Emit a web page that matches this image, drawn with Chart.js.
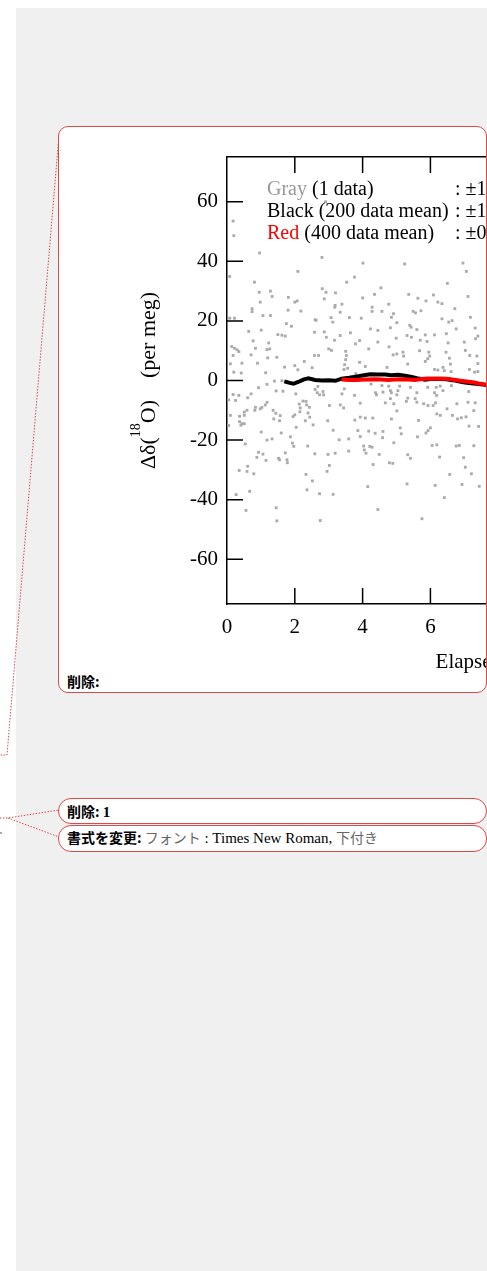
<!DOCTYPE html>
<html>
<head>
<meta charset="utf-8">
<script src="https://cdn.jsdelivr.net/npm/chart.js@4.4.1/dist/chart.umd.min.js"></script>
<style>
  html, body { margin: 0; padding: 0; width: 487px; height: 1271px; overflow: hidden; background: #fff; }
  #pane { position: absolute; left: 16px; top: 8px; width: 471px; height: 1263px; background: #f0f0f0; }
  #links { position: absolute; left: 0; top: 0; }
  .balloon { position: absolute; left: 58px; width: 429px; box-sizing: border-box; border: 1px solid #e04848; background: #fff; overflow: hidden; }
  #b1 { top: 126px; height: 567px; border-radius: 10px; }
  #b2 { top: 798px; height: 26px; border-radius: 13px; }
  #b3 { top: 825px; height: 27px; border-radius: 13px; }
  #chart { position: absolute; left: 41px; top: 13px; }
  #legend { position: absolute; left: 208px; top: 50px; font: 20px/22px "Liberation Serif", serif; color: #000; white-space: nowrap; }
  #legend div { position: relative; height: 22px; }
  #legend .val { position: absolute; left: 188px; top: 0; }
  .note { position: absolute; left: 8px; font: 14px/16px "Noto Sans CJK JP", sans-serif; color: #000; white-space: nowrap; }
  .note b { font-weight: 700; }
  .tn { font-family: "Liberation Serif", serif; font-size: 15px; }
  .cj { color: #666; }
</style>
</head>
<body>
<div id="pane"></div>
<svg id="links" width="487" height="1271">
  <polyline points="59,135 7,755 0,755" fill="none" stroke="#e04848" stroke-width="1" stroke-dasharray="1.5,1.5"/>
  <polyline points="0,818 8,818 59,810" fill="none" stroke="#e04848" stroke-width="1" stroke-dasharray="1.5,1.5"/>
  <polyline points="8,818 59,837" fill="none" stroke="#e04848" stroke-width="1" stroke-dasharray="1.5,1.5"/>
  <line x1="0" y1="833" x2="2" y2="833" stroke="#555" stroke-width="1"/>
</svg>

<div class="balloon" id="b1">
  <canvas id="chart" width="720" height="560"></canvas>
  <div id="legend">
    <div><span style="color:#999">Gray</span> (1 data)<span class="val">: ±11.2 per meg</span></div>
    <div>Black (200 data mean)<span class="val">: ±1.0 per meg</span></div>
    <div><span style="color:#f00">Red</span> (400 data mean)<span class="val">: ±0.7 per meg</span></div>
  </div>
  <div class="note" style="top:546px"><b>削除:</b></div>
</div>
<div class="balloon" id="b2">
  <div class="note" style="top:4px"><b>削除: <span class="tn">1</span></b></div>
</div>
<div class="balloon" id="b3">
  <div class="note" style="top:3px"><b>書式を変更:</b> <span class="cj">フォント</span><span class="tn"> : Times New Roman, </span><span class="cj">下付き</span></div>
</div>

<script>
// axes
const xTicks = [0, 2, 4, 6, 8, 10, 12, 14, 16];
const yTicks = [-60, -40, -20, 0, 20, 40, 60];
const xRange = [0, 16.4];
const yRange = [-75, 75];

// 200 data running mean
const blackX = [1.69, 1.85, 1.96, 2.1, 2.25, 2.4, 2.6, 2.8, 3.0, 3.2, 3.38, 3.6, 3.8, 4.0, 4.22, 4.45, 4.66, 4.85, 5.05, 5.25, 5.45, 5.6, 5.84, 6.0, 6.14, 6.3, 6.48, 6.6, 6.73, 6.9, 7.02, 7.2, 7.42, 7.6, 7.8, 8.0];
const blackY = [-0.3, -0.8, -1.1, -0.5, 0.3, 0.7, 0.2, 0.0, 0.1, -0.1, 0.6, 0.9, 1.3, 1.7, 2.1, 2.0, 2.0, 1.8, 1.9, 1.6, 1.2, 0.8, 0.3, 0.5, 0.6, 0.5, 0.4, 0.2, 0.0, -0.4, -0.7, -0.9, -1.2, -1.4, -1.6, -1.8];

// 400 data running mean
const redX = [3.38, 3.6, 3.8, 4.1, 4.37, 4.55, 4.76, 4.95, 5.15, 5.35, 5.55, 5.75, 5.94, 6.15, 6.33, 6.55, 6.73, 6.9, 7.12, 7.3, 7.42, 7.6, 7.8, 8.0];
const redY = [0.3, 0.2, 0.2, 0.3, 0.4, 0.3, 0.2, 0.3, 0.4, 0.3, 0.2, 0.5, 0.7, 0.6, 0.7, 0.5, 0.2, -0.1, -0.4, -0.7, -1.0, -1.3, -1.5, -1.7];

// single measurements [elapsed h, per meg]
const grayPts = [
  [0.18,53.5],[0.2,48.6],[0.96,42.8],[2.8,41.3],[2.09,36.6],[0.08,34.9],[0.81,33],[0.95,29.6],[1.28,30],[1.33,28.2],
  [0.98,26.3],[1.81,27.9],[2.07,26.7],[2.81,30.8],[2.92,29.6],[3.2,29.4],[3.53,33],[3.76,34.7],[3.39,25.6],[2.91,60],
  [2.87,27.4],[2.6,20.4],[2.0,26.3],[3.19,25.2],
  [4.01,39.4],[5.24,39.1],[6.96,39.4],[7.06,36.6],[6.5,32.6],[4.54,31.1],[4.35,28.9],[4.0,27.7],[5.36,28.9],[5.63,27.6],
  [5.87,26.7],[6.09,28.7],[6.22,26.3],[6.34,25.8],[7.11,28.2],[4.77,25.6],[4.91,22.4],
  [0.74,24.1],[0.74,23.1],[1.06,21.8],[1.28,21.8],[1.8,23.6],[2.18,23.3],[3.18,24.6],[3.34,22.9],[0.08,20.9],[0.22,20.9],
  [1.75,19.1],[1.9,18.2],[2.63,20.2],[3.07,21.1],[3.12,19.6],[3.61,21.1],[0.64,16.5],[1.01,16.9],[1.5,15.4],[1.62,15.2],
  [1.72,14.9],[2.58,16.2],[2.87,16.3],[2.93,14.5],[3.17,13.5],[3.34,15.1],[3.64,16],[0.77,13.3],[1.23,12.6],[0.14,11.4],
  [0.22,10.8],[0.3,10.3],[0.35,9.7],[0.84,10.8],[1.18,10.4],[1.26,10.6],[0.18,8.4],[0.71,8.6],[1.2,7.6],[1.47,7.8],
  [2.28,6.4],[2.58,8.4],[2.7,8.4],[3.0,10.6],[3.08,10.1],[3.5,9.8],[3.52,8.4],[3.5,7.0],[3.47,5.3],[3.45,3.7],
  [3.79,12.3],[0.1,5.6],[0.44,5.8],[0.9,5.8],[1.7,4.5],[2.0,5],[2.09,3.6],[2.51,4.3],[3.56,4.1],[0.2,2.8],
  [0.42,2.5],[1.14,2.6],[3.8,2.3],[1.4,-0.2],[1.62,-0.1],[0.93,-2.4],[1.18,-1.3],[1.45,-3.5],[1.65,-3.6],[2.68,-2],
  [2.03,-4.5],[0.18,-4.7],[0.35,-5],[0.71,-4.5],[2.6,-3],[2.66,-4.1],[2.73,-4.8],[2.83,-3.7],[2.85,-4.8],[0.05,-6.5],
  [0.61,-5.8],[0.25,-6.7],[1.18,-7.3],[1.13,-8.2],[1.03,-9],[0.84,-9],[0.82,-10],[0.51,-10.6],[0.59,-10],[0.98,-9.5],
  [1.36,-10],[1.44,-11],[2.13,-7.9],[2.24,-6.9],[2.33,-7],[2.16,-9.2],[2.15,-10.5],[2.39,-10.9],[2.43,-9],[2.35,-8.2],
  [2.0,-11.5],[3.02,-8.4],[3.34,-8.2],[3.44,-9.2],[3.76,-5],[3.39,-4.5],[3.46,-2.8],
  [4.28,24.6],[4.28,23.2],[4.57,23.2],[4.85,21.2],[5.01,19.4],[5.49,23.2],[5.56,22.7],[5.72,23.4],[6.72,24.1],[3.96,20.9],
  [6.34,20.7],[6.54,19.6],[6.64,20.1],[7.18,21.2],[4.23,17.3],[4.45,16.8],[4.82,17.7],[5.39,18.5],[5.43,17.9],[5.6,17.1],
  [5.85,15.3],[6.12,15.3],[6.47,15.7],[6.76,17.3],[7.32,17.6],[3.91,13.4],[4.45,12.9],[4.99,14.2],[5.31,15.1],[5.44,14.5],
  [5.7,13.5],[5.9,13.1],[6.52,12.6],[7.0,12.9],[7.33,14],[7.4,14.9],[4.18,10.6],[4.78,11.3],[5.19,9.5],[5.21,8.2],
  [5.01,8.9],[4.9,8.6],[5.68,10],[5.95,9.5],[5.98,8.2],[5.92,7.3],[5.85,6.4],[6.46,9.5],[6.56,7.5],[7.03,10.1],
  [7.16,8.4],[7.37,8.2],[3.91,6.1],[5.33,5.5],[6.59,5.5],[7.4,5.7],[4.72,4.4],[4.08,4.7],[6.12,3.7],[6.22,3.5],
  [6.37,4.4],[6.41,3.3],[6.61,3],[7.15,3.7],[7.3,2.8],[7.4,3],[4.25,-1.2],[4.57,-1.7],[4.77,-1.9],[5.09,-1.9],
  [5.41,-2.3],[5.92,-2.3],[6.17,-2.3],[6.29,-1.9],[6.62,-1.7],[4.38,-4.1],[4.41,-4.8],[4.6,-3.9],[4.82,-3.4],[4.85,-4.1],
  [5.04,-3.4],[5.01,-4.8],[5.6,-4.1],[6.12,-4.1],[6.18,-5],[6.37,-3.4],[7.13,-3.7],[4.82,-6.1],[5.29,-7],[5.33,-5.9],
  [5.55,-6.1],[5.6,-7.3],[5.8,-7.8],[5.93,-8.4],[6.08,-8.4],[6.15,-7.5],[4.67,-7.5],[4.92,-7.8],[3.93,-7.6],[6.49,-9.5],
  [6.78,-7.8],[7.11,-7.3],[7.32,-7.5],[5.01,-10.2],[7.28,-10.1],[6.19,-11.2],
  [0.1,-11.7],[0.37,-12],[0.51,-11.7],[0.37,-13.8],[0.44,-14.5],[0.51,-14.5],[0.41,-15.0],[0.05,-15.1],[1.38,-12.9],[1.55,-13.5],
  [1.57,-11.8],[1.95,-12.1],[2.31,-13.5],[2.44,-12.3],[2.54,-14.9],[2.04,-15.7],[2.97,-13.5],[3.77,-13.3],[1.01,-17.3],[1.6,-17.6],
  [1.87,-18.9],[3.13,-16.7],[1.18,-20],[1.33,-19.6],[0.54,-21.3],[1.93,-21],[1.97,-22.1],[2.38,-22],[3.31,-19.9],[3.59,-19.6],
  [0.93,-24.1],[1.06,-24.7],[0.88,-25.8],[1.15,-26.8],[1.72,-24.3],[1.52,-26.1],[1.55,-26.6],[1.77,-26.6],[1.78,-27.6],[2.59,-24.6],
  [2.98,-24.8],[3.19,-24.4],[3.59,-23.7],[0.61,-28.8],[0.36,-30.2],[0.59,-30.5],[0.79,-31.3],[3.02,-28.5],[2.95,-30.5],[2.33,-31.5],
  [2.52,-33.7],[2.36,-36.7],[2.73,-38],[3.13,-38.2],[0.67,-37.2],[0.27,-38.3],[1.45,-42.7],[0.56,-43.6],[1.47,-47.1],[2.75,-47],
  [3.93,-12.3],[4.08,-12.6],[4.3,-12.6],[4.85,-12.9],[5.65,-13.4],[6.29,-11.7],[6.65,-11.7],[6.8,-12.9],[6.91,-12.5],[7.05,-12.2],
  [3.86,-16.8],[4.18,-17],[4.37,-17.7],[4.6,-17.1],[4.59,-19.2],[3.93,-18.8],[5.11,-15.9],[5.14,-17.9],[5.62,-18.9],[5.87,-17.6],
  [5.93,-16.8],[6.0,-15.9],[7.14,-15.3],[7.42,-15.4],[4.92,-20.9],[4.03,-22],[4.05,-23.3],[4.1,-24.4],[4.21,-22.1],[4.28,-22.4],
  [4.49,-24.8],[6.05,-21.8],[6.19,-21.6],[6.76,-22],[6.85,-21.8],[7.28,-21.9],[5.33,-24.9],[5.41,-26.1],[6.27,-25.7],[6.98,-25.9],
  [4.31,-28.2],[4.79,-27.6],[4.89,-27.8],[7.03,-29.1],[6.57,-31.5],[7.21,-31.3],[4.15,-35.6],[5.31,-34.7],[6.14,-35.2],[6.93,-34.9],
  [7.44,-35.5],[6.41,-39.3],[4.45,-43.3],[5.75,-46.4]
];

const serif = { family: '"Liberation Serif", serif', size: 21 };
// short line height keeps the label overhang inside the 17px top strip
const serifY = { family: '"Liberation Serif", serif', size: 21, lineHeight: 0.6 };
const toXY = (xs, ys) => xs.map((x, i) => ({ x: x, y: ys[i] }));

// tick marks point into the plot, on bottom, top and left
const innerTicks = {
  id: 'innerTicks',
  afterDatasetsDraw(chart) {
    const { ctx, chartArea: a, scales } = chart;
    ctx.save();
    ctx.strokeStyle = '#000';
    ctx.lineWidth = 1.5;
    ctx.beginPath();
    scales.y.ticks.forEach(t => {
      const py = scales.y.getPixelForValue(t.value);
      ctx.moveTo(a.left, py);
      ctx.lineTo(a.left + 16, py);
    });
    scales.x.ticks.forEach(t => {
      if (t.value === 0) return;
      const px = scales.x.getPixelForValue(t.value);
      ctx.moveTo(px, a.bottom);
      ctx.lineTo(px, a.bottom - 16);
      ctx.moveTo(px, a.top);
      ctx.lineTo(px, a.top + 16);
    });
    ctx.stroke();
    ctx.restore();
  }
};

// y title with a raised "18"
const yTitle = {
  id: 'yTitle',
  afterDraw(chart) {
    const ctx = chart.ctx;
    const cy = (chart.chartArea.top + chart.chartArea.bottom) / 2;
    ctx.save();
    ctx.translate(55, cy);
    ctx.rotate(-Math.PI / 2);
    ctx.fillStyle = '#000';
    ctx.textBaseline = 'alphabetic';
    const big = '22px "Liberation Serif", serif';
    const small = '14px "Liberation Serif", serif';
    const parts = [['Δδ(', big, 0], ['18', small, -15], ['O)    (per meg)', big, 0]];
    let w = 0;
    parts.forEach(p => { ctx.font = p[1]; w += ctx.measureText(p[0]).width; });
    let x = -w / 2;
    parts.forEach(p => {
      ctx.font = p[1];
      ctx.fillText(p[0], x, p[2]);
      x += ctx.measureText(p[0]).width;
    });
    ctx.restore();
  }
};

new Chart(document.getElementById('chart'), {
  type: 'scatter',
  data: {
    datasets: [
      { label: 'Red', data: toXY(redX, redY), showLine: true, borderColor: '#ff0000', borderWidth: 4, pointRadius: 0, order: 0 },
      { label: 'Black', data: toXY(blackX, blackY), showLine: true, borderColor: '#000000', borderWidth: 4, pointRadius: 0, order: 1 },
      { label: 'Gray', data: grayPts.map(p => ({ x: p[0], y: p[1] })), pointStyle: 'rect', pointRadius: 2,
        backgroundColor: '#aaaaaa', borderWidth: 0, order: 2 }
    ]
  },
  options: {
    responsive: false,
    animation: false,
    devicePixelRatio: 1,
    layout: { padding: { left: 0, top: 0, right: 37, bottom: 0 } },
    plugins: { legend: { display: false }, tooltip: { enabled: false } },
    scales: {
      x: {
        type: 'linear', position: 'bottom', min: xRange[0], max: xRange[1],
        afterBuildTicks: s => { s.ticks = xTicks.map(v => ({ value: v })); },
        afterFit: s => { s.height = 96; },
        grid: { display: false, drawTicks: false },
        border: { color: '#000', width: 1.5 },
        ticks: { font: serif, color: '#000', padding: 11, maxRotation: 0, autoSkip: false },
        title: { display: true, text: 'Elapsed time (h)', font: serif, color: '#000', padding: { top: 0, bottom: 25 } }
      },
      x2: {
        type: 'linear', position: 'top', min: xRange[0], max: xRange[1],
        afterFit: s => { s.height = 17; },
        grid: { display: false, drawTicks: false },
        border: { color: '#000', width: 1.5 },
        ticks: { display: false }
      },
      y: {
        type: 'linear', position: 'left', min: yRange[0], max: yRange[1],
        afterBuildTicks: s => { s.ticks = yTicks.map(v => ({ value: v })); },
        afterFit: s => { s.width = 127; },
        grid: { display: false, drawTicks: false },
        border: { color: '#000', width: 1.5 },
        ticks: { font: serifY, color: '#000', padding: 9 }
      }
    }
  },
  plugins: [innerTicks, yTitle]
});
</script>
</body>
</html>
